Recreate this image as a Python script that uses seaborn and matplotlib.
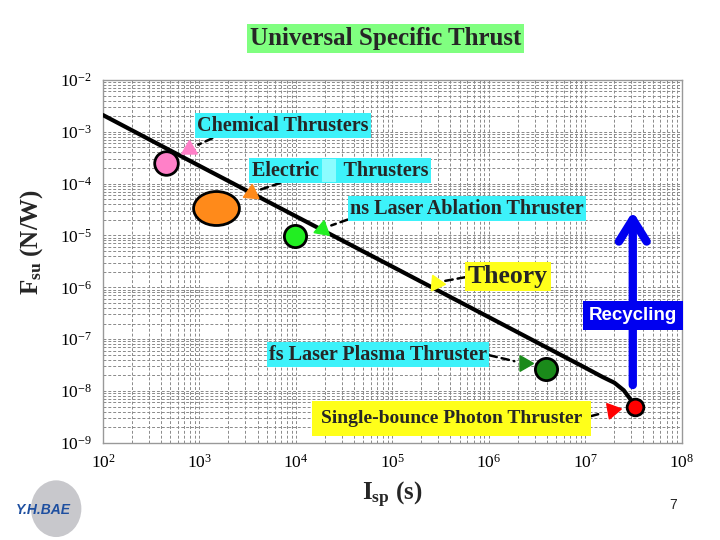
import numpy as np
import pandas as pd
import matplotlib
matplotlib.use('Agg')
import matplotlib.pyplot as plt
import seaborn as sns
from matplotlib.path import Path
from matplotlib.patches import Ellipse

# Theory curve
theory_isp = [1e2, 1e3, 1e4, 1e5, 1e6, 1e7, 1.5e7, 2.0e7, 2.5e7, 2.95e7, 3.2e7]
theory_fsu = [2.1e-3, 2.2e-4, 2.34e-5, 2.5e-6, 2.65e-7, 2.8e-8, 1.87e-8, 1.44e-8, 1.03e-8, 6.8e-9, 5.5e-9]

# Thruster data points
point_names = ['Chemical', 'Electric', 'ns Laser Ablation', 'fs Laser Plasma', 'Photon']
point_isp = [453, 1.47e3, 9.8e3, 3.9e6, 3.24e7]
point_fsu = [2.5e-4, 3.4e-5, 9.9e-6, 2.7e-8, 5.0e-9]

# Arrow-head triangles of the labels
label_texts = ['Chemical Thrusters', 'Electric     Thrusters', 'ns Laser Ablation Thruster',
               'Theory', 'fs Laser Plasma Thruster', 'Single-bounce Photon Thruster']
tri_isp = [787, 3.4e3, 1.87e4, 2.8e5, 2.3e6, 1.9e7]
tri_fsu = [4.7e-4, 6.65e-5, 1.35e-5, 1.23e-6, 3.4e-8, 4.2e-9]
label_isp = [7.3e3, 2.87e4, 5.9e5, 1.58e6, 7.1e4, 4.1e5]
label_fsu = [1.3e-3, 1.77e-4, 3.27e-5, 1.6e-6, 5.0e-8, 2.95e-9]

# Recycling arrow
recycle_isp = 3.1e7
recycle_fsu = [1.3e-8, 2.9e-5]

sns.set_style('white')
plt.rcParams['font.family'] = ['Liberation Serif', 'DejaVu Serif']
plt.rcParams['mathtext.fontset'] = 'custom'
plt.rcParams['mathtext.rm'] = 'Liberation Serif:bold'
plt.rcParams['mathtext.it'] = 'Liberation Serif:bold'
plt.rcParams['mathtext.bf'] = 'Liberation Serif:bold'

cyan = '#3DF2FA'
yellow = '#FFFF1A'

fig = plt.figure(figsize=(7.2, 5.4), dpi=100)
ax = fig.add_axes([0.143, 0.18, 0.804, 0.672])

# theory line
sns.lineplot(x=theory_isp, y=theory_fsu, ax=ax, color='black', lw=3, zorder=4)

ax.set_xscale('log')
ax.set_yscale('log')
ax.set_xlim(1e2, 1e8)
ax.set_ylim(1e-9, 1e-2)

# grid
ax.grid(True, which='both', ls=(0, (3, 2)), color='#8a8a8a', lw=0.7)
for s in ax.spines.values():
    s.set_color('#999999')
    s.set_linewidth(1)
ax.tick_params(which='both', direction='in', colors='#888888', labelcolor='black',
               labelsize=12.5, pad=8)
ax.tick_params(which='major', length=5)
ax.tick_params(which='minor', length=3)
ax.xaxis.set_minor_locator(matplotlib.ticker.LogLocator(base=10, subs=np.arange(2, 10)))
ax.yaxis.set_minor_locator(matplotlib.ticker.LogLocator(base=10, subs=np.arange(2, 10)))
ax.yaxis.set_minor_formatter(matplotlib.ticker.NullFormatter())
ax.xaxis.set_minor_formatter(matplotlib.ticker.NullFormatter())

ax.set_xlabel(r'$I_{sp}$ (s)', fontsize=18, fontweight='bold', labelpad=6)
ax.set_ylabel(r'$F_{su}$ (N/W)', fontsize=18, fontweight='bold')
ax.yaxis.set_label_coords(-0.1, 0.555)

# data points
pt_colors = ['#FF80C8', '#FF8A1A', '#22EE22', '#1A8A1A', '#FF0000']
pt_sizes = [17, 33, 16, 16, 12]
ell = Path.unit_circle()
ell = Path(ell.vertices * np.array([1.35, 1.0]), ell.codes)
pt_markers = ['o', ell, 'o', 'o', 'o']
for i in range(len(point_isp)):
    ax.plot(point_isp[i], point_fsu[i], marker=pt_markers[i], ms=pt_sizes[i],
            mfc=pt_colors[i], mec='black', mew=2, ls='none', zorder=5)

# labels with dashed connectors and triangle heads
tri_colors = ['#FF80C8', '#FF8A1A', '#22EE22', '#FFFF1A', '#1A8A1A', '#FF0000']
tri_angles = [0, 115, 110, 25, -90, -80]
box_colors = [cyan, cyan, cyan, yellow, cyan, yellow]
font_sizes = [14.5, 14.5, 14.5, 18.5, 14.5, 14]
box_pads = [0.12, 0.12, 0.12, 0.12, 0.12, 0.45]
relpos = [(0.12, 0.0), (0.2, 0.0), (0.0, 0.0), (0.0, 0.5), (1.0, 0.5), (1.0, 0.5)]
for i in range(len(label_texts)):
    ax.annotate(label_texts[i], xy=(tri_isp[i], tri_fsu[i]),
                xytext=(label_isp[i], label_fsu[i]),
                ha='center', va='center', fontsize=font_sizes[i], fontweight='bold',
                bbox=dict(boxstyle='square,pad=%g' % box_pads[i], fc=box_colors[i], ec='none'),
                arrowprops=dict(arrowstyle='-', color='black', lw=1.8,
                                ls=(0, (3, 2)), shrinkA=0, shrinkB=7,
                                relpos=relpos[i]),
                zorder=6)
    ax.plot(tri_isp[i], tri_fsu[i], marker=(3, 0, tri_angles[i]), ms=13,
            color=tri_colors[i], mec=tri_colors[i], ls='none', zorder=6)

# lighter patch in the Electric label
ax.text(label_isp[1] * 0.77, label_fsu[1], '  ', fontsize=14.5,
        ha='center', va='center',
        bbox=dict(boxstyle='square,pad=0.1', fc='#8CFCFF', ec='none'), zorder=7)

# Recycling arrow
ax.annotate('', xy=(recycle_isp, recycle_fsu[1]), xytext=(recycle_isp, recycle_fsu[0]),
            arrowprops=dict(arrowstyle='->,head_length=0.8,head_width=0.5',
                            color='#0000F0', lw=6, shrinkA=0, shrinkB=0,
                            mutation_scale=20), zorder=7)
ax.text(recycle_isp, 2.84e-7, 'Recycling', ha='center', va='center', color='white',
        fontsize=13.5, fontweight='bold', family=['Liberation Sans', 'DejaVu Sans'],
        bbox=dict(boxstyle='square,pad=0.32', fc='#0000F0', ec='none'), zorder=8)

# title
fig.text(0.535, 0.928, 'Universal Specific Thrust', ha='center', va='center',
         fontsize=18, fontweight='bold',
         bbox=dict(boxstyle='square,pad=0.12', fc='#80FF80', ec='none'))

# logo and page number
fig.patches.append(Ellipse((0.078, 0.058), 0.07, 0.105, transform=fig.transFigure,
                           fc='#C8C8CC', ec='none', zorder=0))
fig.text(0.06, 0.055, 'Y.H.BAE', ha='center', va='center', color='#1E4FA0',
         fontsize=10, fontweight='bold', style='italic',
         family=['Liberation Sans', 'DejaVu Sans'])
fig.text(0.935, 0.065, '7', ha='center', va='center', fontsize=10,
         family=['Liberation Sans', 'DejaVu Sans'])

fig.savefig('out.png', dpi=100)
